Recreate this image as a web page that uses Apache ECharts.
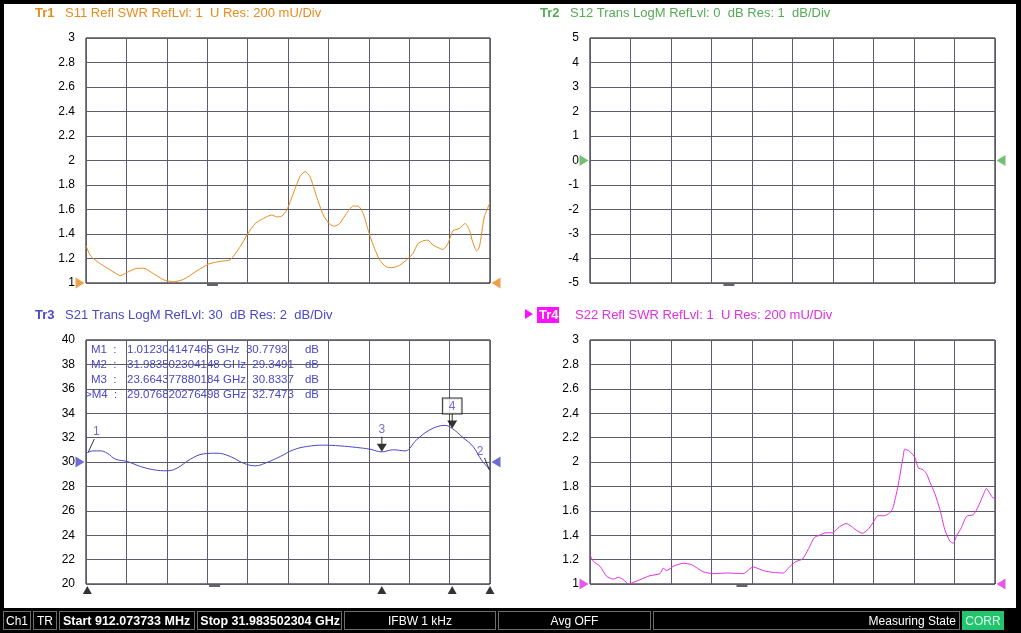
<!DOCTYPE html>
<html>
  <head>
    <meta charset="utf-8" />
    <title>VNA 4 trace display</title>
    <script src="https://cdn.jsdelivr.net/npm/echarts@6/dist/echarts.min.js"></script>
    <style>
      body { margin: 0; background: #000; }
      #screen { position: relative; width: 1021px; height: 633px; overflow: hidden; background: #000; }
      #paper { position: absolute; left: 4px; top: 4px; width: 1012px; height: 604px; background: #fff; }
      #main { position: absolute; left: 0; top: 0; width: 1021px; height: 633px; }
      #bar { position: absolute; left: 0; top: 609px; width: 1021px; height: 24px; }
      #bar div {
        position: absolute; top: 2px; height: 19px; line-height: 19px;
        border: 1px solid #6e6e6e; color: #fff; box-sizing: border-box;
        font-family: "Liberation Sans", sans-serif;
        font-size: 12px; white-space: nowrap; overflow: hidden;
      }
      #bar div.b { font-weight: bold; font-size: 12.5px; }
    </style>
  </head>

  <body>
    <div id="screen">
      <div id="paper"></div>
      <div id="main"></div>
      <div id="bar">
        <div style="left:3px;width:28px;text-align:center">Ch1</div>
        <div style="left:33px;width:24px;text-align:center">TR</div>
        <div class="b" style="left:59px;width:136px;padding-left:3px">Start 912.073733 MHz</div>
        <div class="b" style="left:197px;width:145px;text-align:right;padding-right:1px">Stop 31.983502304 GHz</div>
        <div style="left:344px;width:152px;text-align:center">IFBW 1 kHz</div>
        <div style="left:498px;width:153px;text-align:center">Avg OFF</div>
        <div style="left:653px;width:307px;text-align:right;padding-right:3px">Measuring State</div>
        <div style="left:962px;width:42px;text-align:center;background:#22c46e;color:#d8ffe8;border-color:#22c46e">CORR</div>
      </div>
    </div>

    <script>
      // sweep, GHz
      const START_GHZ = 0.912073733;
      const STOP_GHZ = 31.983502304;
      const SPAN_GHZ = STOP_GHZ - START_GHZ;

      // Tr1 S11 SWR
      const s11Freq = [0.912, 1.27, 2.04, 2.8, 3.57, 4.08, 4.85, 5.36, 6.13, 6.9, 7.66, 8.43, 9.45, 10.35, 11.24, 12.01,
        12.79, 13.34, 13.93, 14.56, 15.2, 15.58, 15.97, 16.36, 16.86, 17.37, 17.76, 18.14, 18.65, 19.16, 19.67, 20.05,
        20.43, 20.94, 21.46, 21.84, 22.23, 22.61, 23.0, 23.51, 24.01, 24.52, 25.03, 25.54, 26.05, 26.44, 26.83, 27.2,
        27.6, 27.98, 28.36, 28.75, 29.13, 29.63, 30.09, 30.4, 30.65, 30.96, 31.17, 31.55, 31.9835];
      const s11Swr = [1.305, 1.22, 1.155, 1.106, 1.06, 1.087, 1.12, 1.12, 1.074, 1.025, 1.01, 1.03, 1.1, 1.155, 1.177, 1.19,
        1.3, 1.4, 1.486, 1.527, 1.555, 1.54, 1.546, 1.596, 1.732, 1.869, 1.91, 1.869, 1.705, 1.555, 1.478, 1.464,
        1.486, 1.568, 1.628, 1.628, 1.568, 1.432, 1.309, 1.186, 1.131, 1.126, 1.145, 1.186, 1.24, 1.322, 1.344, 1.35,
        1.309, 1.29, 1.273, 1.322, 1.426, 1.445, 1.486, 1.432, 1.336, 1.262, 1.295, 1.541, 1.656];

      // Tr3 S21 LogM dB
      const s21Freq = [0.912, 1.0123, 1.4, 2.04, 2.55, 3.19, 4.08, 5.11, 6.13, 7.15, 7.92, 8.94, 9.97, 10.99, 12.01, 13.03, 13.93, 14.82, 15.85, 16.87, 17.89, 19.17, 20.45, 21.73, 22.75, 23.664, 24.54, 25.44, 26.33, 27.35, 28.51, 29.077, 29.91, 30.68, 31.32, 31.9835];
      const s21Db = [30.8, 30.78, 30.91, 30.91, 30.72, 30.23, 30.04, 29.63, 29.36, 29.28, 29.5, 30.23, 30.67, 30.72, 30.45, 29.9, 29.69, 29.96, 30.45, 31.0, 31.27, 31.38, 31.32, 31.19, 31.05, 30.83, 31.0, 30.91, 31.81, 32.63, 33.0, 32.75, 32.0, 31.27, 30.18, 29.35];

      // Tr4 S22 SWR
      const s22Freq = [0.912, 1.17, 1.68, 2.19, 2.7, 3.08, 3.47, 3.85, 4.11, 4.75, 5.51, 6.28, 6.53, 6.79, 7.3, 8.07, 8.71, 9.6,
        10.37, 11.39, 12.67, 13.43, 14.2, 14.97, 15.73, 16.2, 16.7, 17.22, 17.73, 18.12, 18.5, 19.02, 19.53, 20.05, 20.56,
        20.95, 21.33, 21.8, 22.24, 22.61, 23.01, 23.51, 23.9, 24.15, 24.53, 24.93, 25.06, 25.43, 25.83, 26.09, 26.46, 26.73,
        26.98, 27.36, 27.76, 28.13, 28.51, 28.78, 29.03, 29.4, 29.8, 30.31, 30.7, 31.08, 31.33, 31.61, 31.86, 31.9835];
      const s22Swr = [1.24, 1.186, 1.145, 1.063, 1.04, 1.055, 1.035, 1.0, 1.008, 1.035, 1.068, 1.085, 1.13, 1.11, 1.145, 1.17, 1.158, 1.1,
        1.085, 1.09, 1.085, 1.14, 1.11, 1.095, 1.09, 1.138, 1.184, 1.205, 1.3, 1.38, 1.399, 1.42, 1.42, 1.469, 1.496,
        1.474, 1.442, 1.415, 1.447, 1.501, 1.56, 1.56, 1.582, 1.622, 1.797, 2.039, 2.106, 2.087, 2.039, 1.953, 1.937, 1.904,
        1.837, 1.743, 1.609, 1.447, 1.353, 1.334, 1.394, 1.461, 1.555, 1.568, 1.635, 1.73, 1.783, 1.738, 1.703, 1.72];

      // markers on Tr3
      const markerNames = ["M1", "M2", "M3", "M4"];
      const markerFreq = [1.012304147465, 31.983502304148, 23.664377880184, 29.076820276498];
      const markerDb = [30.7793, 29.3491, 30.8337, 32.7473];

      // scale settings per trace: [min, max, step, ref level]
      const scales = [
        [1, 3, 0.2, 1],
        [-5, 5, 1, 0],
        [20, 40, 2, 30],
        [1, 3, 0.2, 1],
      ];
      const traceColors = ["#ea8a1e", "#55ab55", "#4848c8", "#e030e0"];
      const titles = [
        ["Tr1", "S11 Refl SWR RefLvl: 1  U Res: 200 mU/Div"],
        ["Tr2", "S12 Trans LogM RefLvl: 0  dB Res: 1  dB/Div"],
        ["Tr3", "S21 Trans LogM RefLvl: 30  dB Res: 2  dB/Div"],
        ["Tr4", "S22 Refl SWR RefLvl: 1  U Res: 200 mU/Div"],
      ];
      // small dash under each grid
      const dashFreq = [10.64, 11.57, 10.8, 12.57];

      const FONT = "Liberation Sans";
      const gridBox = [
        { left: 86, top: 38, width: 404, height: 245 },
        { left: 590, top: 38, width: 405, height: 245 },
        { left: 86, top: 340, width: 404, height: 244 },
        { left: 590, top: 340, width: 405, height: 244 },
      ];

      function zip(xs, ys) {
        return xs.map((x, i) => [x, ys[i]]);
      }

      const series = [];
      [[s11Freq, s11Swr, 0], [s21Freq, s21Db, 2], [s22Freq, s22Swr, 3]].forEach(([f, v, g]) => {
        series.push({
          type: "line",
          xAxisIndex: g,
          yAxisIndex: g,
          data: zip(f, v),
          showSymbol: false,
          smooth: g == 2 ? 0.4 : 0.2,
          lineStyle: { color: traceColors[g], width: 1 },
          silent: true,
          z: 3,
        });
      });

      // reference level triangles and dashes
      scales.forEach((s, g) => {
        series.push({
          type: "scatter",
          xAxisIndex: g,
          yAxisIndex: g,
          clip: false,
          silent: true,
          symbol: "triangle",
          symbolSize: [11, 9],
          z: 5,
          itemStyle: { color: traceColors[g] },
          data: [
            { value: [START_GHZ, s[3]], symbolRotate: -90, symbolOffset: [-6, 0] },
            { value: [STOP_GHZ, s[3]], symbolRotate: 90, symbolOffset: [6, 0] },
          ],
        });
        series.push({
          type: "scatter",
          xAxisIndex: g,
          yAxisIndex: g,
          clip: false,
          silent: true,
          symbol: "rect",
          symbolSize: [11, 1.5],
          symbolOffset: [0, 2],
          itemStyle: { color: "#000" },
          data: [[dashFreq[g], s[0]]],
        });
      });

      // marker stimulus triangles along bottom of Tr3
      series.push({
        type: "scatter",
        xAxisIndex: 2,
        yAxisIndex: 2,
        clip: false,
        silent: true,
        symbol: "triangle",
        symbolSize: [9, 8],
        symbolOffset: [0, 6],
        itemStyle: { color: "#000" },
        data: markerFreq.map((f) => [f, scales[2][0]]),
      });

      const blue = traceColors[2];
      const numLabel = { show: true, color: blue, fontSize: 12, fontFamily: FONT };
      const arrowPath = "path://M4.5,0 L5.5,0 L5.5,7 L10,7 L5,15 L0,7 L4.5,7 Z";
      series.push({
        type: "scatter",
        xAxisIndex: 2,
        yAxisIndex: 2,
        clip: false,
        silent: true,
        itemStyle: { color: "#000" },
        z: 6,
        data: [
          {
            value: [markerFreq[0], markerDb[0]],
            symbol: "path://M0,13 L1,13 L7,0 L6,0 Z",
            symbolSize: [7, 13],
            symbolOffset: [4, -7],
            label: { ...numLabel, formatter: "1", position: "top", distance: 1, offset: [5, 0] },
          },
          {
            value: [markerFreq[1], markerDb[1]],
            symbol: "path://M0,0 L1,0 L6,12 L5,12 Z",
            symbolSize: [6, 12],
            symbolOffset: [-3, -6],
            label: { ...numLabel, formatter: "2", position: "top", distance: 1, offset: [-7, 1] },
          },
          {
            value: [markerFreq[2], markerDb[2]],
            symbol: arrowPath,
            symbolSize: [10, 15],
            symbolOffset: [0, -7.5],
            label: { ...numLabel, formatter: "3", position: "top", distance: 1 },
          },
          {
            value: [markerFreq[3], markerDb[3]],
            symbol: arrowPath,
            symbolSize: [10, 15],
            symbolOffset: [0, -7.5],
            label: {
              ...numLabel,
              formatter: "4",
              position: "top",
              distance: 0,
              borderColor: "#000",
              borderWidth: 1,
              padding: [1, 6, 0, 6],
              lineHeight: 14,
              backgroundColor: "#fff",
            },
          },
        ],
      });

      // header texts and marker table
      const graphic = [];
      const titlePos = [[28, 13], [533, 13], [28, 315], [538, 315]];
      titles.forEach((t, i) => {
        const [x, y] = titlePos[i];
        if (i == 3) {
          graphic.push({ type: "polygon", shape: { points: [[525, 309], [533, 314], [525, 319]] }, style: { fill: "#ff10ff" } });
          graphic.push({ type: "rect", shape: { x: 537, y: 307, width: 22, height: 16 }, style: { fill: "#ff10ff" } });
          graphic.push({ type: "text", x: 539, y: y, style: { text: t[0], fill: "#fff", font: "bold 13px " + FONT, verticalAlign: "middle" } });
        } else {
          graphic.push({ type: "text", x: x + 7, y: y, style: { text: t[0], fill: traceColors[i], font: "bold 13px " + FONT, verticalAlign: "middle" } });
        }
        graphic.push({ type: "text", x: x + 37, y: y, style: { text: t[1], fill: traceColors[i], font: "13px " + FONT, verticalAlign: "middle" } });
      });
      const tableFont = "11.5px " + FONT;
      markerNames.forEach((m, i) => {
        const y = 350 + i * 15;
        const active = i == 3;
        graphic.push({ type: "text", x: active ? 85 : 91, y: y, style: { text: (active ? ">" : "") + m + "  :", fill: blue, font: tableFont, verticalAlign: "middle" } });
        graphic.push({ type: "text", x: 127, y: y, style: { text: markerFreq[i].toFixed(12) + " GHz  " + markerDb[i].toFixed(4), fill: blue, font: tableFont, verticalAlign: "middle" } });
        graphic.push({ type: "text", x: 319, y: y, style: { text: "dB", fill: blue, font: tableFont, verticalAlign: "middle", align: "right" } });
      });

      const option = {
        animation: false,
        backgroundColor: "transparent",
        grid: gridBox.map((b) => ({ ...b, show: true, borderColor: "#000", borderWidth: 1, backgroundColor: "#fff" })),
        xAxis: gridBox.map((b, i) => ({
          type: "value",
          gridIndex: i,
          min: START_GHZ,
          max: STOP_GHZ,
          interval: SPAN_GHZ / 10,
          axisLabel: { show: false },
          axisTick: { show: false },
          axisLine: { show: false },
          splitLine: { show: true, lineStyle: { color: "#5c5c6e", width: 1 } },
        })),
        yAxis: scales.map((s, i) => ({
          type: "value",
          gridIndex: i,
          min: s[0],
          max: s[1],
          interval: s[2],
          axisLabel: { color: "#000", fontSize: 12, fontFamily: FONT, margin: 11 },
          axisTick: { show: false },
          axisLine: { show: false },
          splitLine: { show: true, lineStyle: { color: "#5c5c6e", width: 1 } },
        })),
        series: series,
        graphic: graphic,
      };

      var myChart = echarts.init(document.getElementById("main"));
      myChart.setOption(option);
    </script>
  </body>
</html>
